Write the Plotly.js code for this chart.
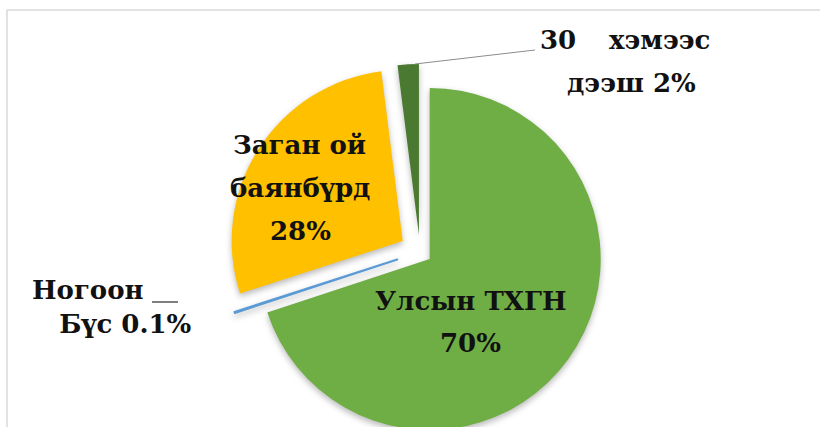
<!DOCTYPE html>
<html>
<head>
<meta charset="utf-8">
<script src="https://cdn.plot.ly/plotly-3.0.1.min.js"></script>
<style>
  html, body { margin: 0; padding: 0; width: 820px; height: 427px; overflow: hidden; background: #fff; }
  #chart { width: 820px; height: 452px; }
  #chart .pielayer path.surface { filter: drop-shadow(0px 3px 3px rgba(0, 0, 0, 0.28)); }
</style>
</head>
<body>
<div id="chart"></div>
<script>
// Area shares by protection category (%)
const labels = ['Улсын ТХГН', 'Ногоон Бүс', 'Заган ой баянбүрд', '30 хэмээс дээш'];
const shares = [70, 0.1, 28, 2];

// Slice styling
const colors = ['#6fad45', '#5b9bd5', '#ffc000', '#4a7a32'];
const pulls = [0.07, 0.14, 0.12, 0.10];
const edgeWidths = [0, 2, 0, 0];

// Canvas is a bit taller than the window; the bottom strip is cropped off.
const W = 820, H = 452;
const px = x => x / W;
const py = y => 1 - y / H;

// Pie placement (pixels)
const cx = 420, cy = 252, R = 171;
const half = R * (1 + Math.max(...pulls));

const FONT = { family: 'DejaVu Serif', size: 26, color: '#111' };

function textLine(text, x, y, xanchor, align) {
  return {
    text: '<b>' + text + '</b>', x: px(x), y: py(y), xref: 'paper', yref: 'paper',
    xanchor: xanchor || 'center', yanchor: 'middle', align: align || 'center',
    showarrow: false, font: FONT
  };
}
const pct = v => v + '%';
const NB = '\u00A0';

const wGreen = labels[0];
const wBlue = labels[1].split(' ');
const wYellow = labels[2].split(' ');
const wDark = labels[3].split(' ');

const annotations = [
  textLine(wGreen, 471, 301),
  textLine(pct(shares[0]), 471, 343),

  textLine(wYellow[0] + ' ' + wYellow[1], 299, 145),
  textLine(wYellow[2], 300, 188),
  textLine(pct(shares[2]), 300, 231),

  textLine(wBlue[0] + '<br>' + NB + NB + NB + wBlue[1] + ' ' + pct(shares[1]), 30, 307, 'left', 'left'),

  textLine(wDark[0], 538, 40, 'left'),
  textLine(wDark[1], 712, 40, 'right'),
  textLine(wDark[2] + ' ' + pct(shares[3]), 631, 83)
];

function seg(x0, y0, x1, y1, color, width) {
  return { type: 'line', xref: 'paper', yref: 'paper',
           x0: px(x0), y0: py(y0), x1: px(x1), y1: py(y1),
           line: { color: color, width: width } };
}

const shapes = [
  // chart frame
  seg(7, 10, 820, 10, '#d9d9d9', 1.5),
  seg(7, 10, 7, H, '#d9d9d9', 1.5),
  // leader lines
  seg(415, 64, 535, 50, '#8c8c8c', 1),
  seg(152, 302, 178, 302, '#555555', 1.5)
];

const trace = {
  type: 'pie',
  labels: labels,
  values: shares,
  sort: false,
  direction: 'clockwise',
  rotation: 0,
  pull: pulls,
  marker: { colors: colors, line: { color: colors, width: edgeWidths } },
  textinfo: 'none',
  hoverinfo: 'label+percent',
  showlegend: false,
  domain: {
    x: [(cx - 300) / W, (cx + 300) / W],
    y: [1 - (cy + half) / H, 1 - (cy - half) / H]
  }
};

const layout = {
  width: W, height: H,
  margin: { l: 0, r: 0, t: 0, b: 0 },
  paper_bgcolor: '#ffffff',
  showlegend: false,
  annotations: annotations,
  shapes: shapes
};

Plotly.newPlot('chart', [trace], layout, { displayModeBar: false, staticPlot: true });
</script>
</body>
</html>
